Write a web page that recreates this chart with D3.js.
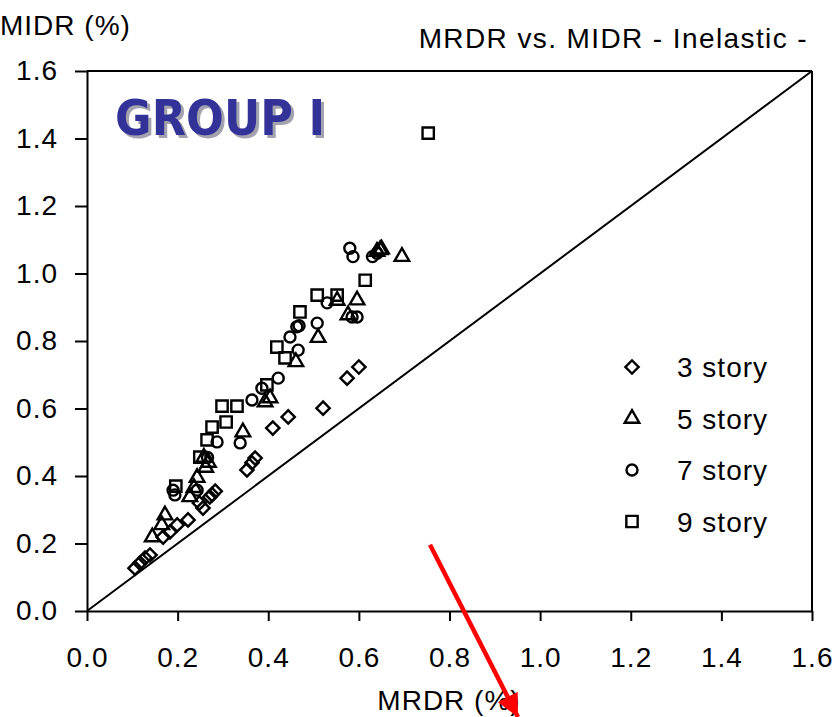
<!DOCTYPE html>
<html>
<head>
<meta charset="utf-8">
<script src="https://cdn.jsdelivr.net/npm/d3@7"></script>
<style>
  body { margin: 0; background: #fff; }
  text { font-family: "Liberation Sans", Arial, sans-serif; }
</style>
</head>
<body>
<svg id="drift" width="834" height="717"></svg>
<script>
// MRDR, MIDR pairs (%)
var story3 = [[0.106,0.127],[0.117,0.142],[0.128,0.157],[0.139,0.166],[0.168,0.219],[0.183,0.234],
  [0.199,0.255],[0.223,0.270],[0.248,0.320],[0.256,0.305],[0.271,0.338],[0.276,0.345],[0.283,0.355],
  [0.353,0.418],[0.364,0.439],[0.371,0.453],[0.410,0.542],[0.444,0.575],[0.521,0.601],[0.574,0.690],[0.600,0.723]];
var story5 = [[0.144,0.219],[0.165,0.255],[0.172,0.284],[0.227,0.338],[0.236,0.365],[0.243,0.395],
  [0.262,0.425],[0.268,0.440],[0.258,0.455],[0.344,0.530],[0.393,0.619],[0.404,0.631],[0.461,0.738],
  [0.510,0.810],[0.552,0.920],[0.576,0.877],[0.596,0.921],[0.640,1.065],[0.647,1.070],[0.650,1.072],[0.695,1.050]];
var story7 = [[0.190,0.358],[0.194,0.344],[0.243,0.358],[0.266,0.455],[0.287,0.501],[0.338,0.498],
  [0.364,0.625],[0.386,0.660],[0.422,0.690],[0.448,0.812],[0.463,0.842],[0.466,0.773],[0.468,0.845],
  [0.508,0.853],[0.530,0.913],[0.585,0.871],[0.596,0.871],[0.580,1.075],[0.587,1.050],[0.630,1.050],[0.640,1.060]];
var story9 = [[0.196,0.370],[0.249,0.456],[0.265,0.507],[0.276,0.545],[0.307,0.560],[0.298,0.607],
  [0.331,0.607],[0.397,0.670],[0.419,0.782],[0.437,0.750],[0.470,0.886],[0.508,0.936],[0.552,0.936],
  [0.614,0.980],[0.753,1.416]];

var seriesNames = ["3 story", "5 story", "7 story", "9 story"];
var ticks = [0, 0.2, 0.4, 0.6, 0.8, 1.0, 1.2, 1.4, 1.6];
var arrowFrom = [0.757, 0.196], arrowTo = [0.951, -0.314];

var svg = d3.select("#drift");

var x = d3.scaleLinear().domain([0, 1.6]).range([87, 812]);
var y = d3.scaleLinear().domain([0, 1.6]).range([611, 71]);

// symbols: diamond is a square turned 45deg
var shapes = [
  { sym: d3.symbolSquare, size: 88, rot: 45 },
  { sym: d3.symbolTriangle, size: 92, rot: 0 },
  { sym: d3.symbolCircle, size: 95, rot: 0 },
  { sym: d3.symbolSquare, size: 128, rot: 0 }
];

// frame
svg.append("line").attr("x1", x(0)).attr("x2", x(1.6)).attr("y1", y(1.6)).attr("y2", y(1.6))
  .attr("stroke", "#000").attr("stroke-width", 2);
svg.append("line").attr("x1", x(1.6)).attr("x2", x(1.6)).attr("y1", y(0)).attr("y2", y(1.6))
  .attr("stroke", "#000").attr("stroke-width", 2);

var yAxis = svg.append("g")
  .attr("transform", "translate(" + x(0) + ",0)")
  .call(d3.axisLeft(y).tickValues(ticks).tickFormat(d3.format(".1f")).tickSize(12).tickSizeOuter(0).tickPadding(17));
var xAxis = svg.append("g")
  .attr("transform", "translate(0," + y(0) + ")")
  .call(d3.axisBottom(x).tickValues(ticks).tickFormat(d3.format(".1f")).tickSize(10).tickSizeOuter(0).tickPadding(26));

[yAxis, xAxis].forEach(function(a) {
  a.selectAll("path, line").attr("stroke", "#000").attr("stroke-width", 2);
  a.selectAll("text").attr("fill", "#000").style("font-size", "28px").style("font-family", "Liberation Sans, Arial, sans-serif")
    .style("letter-spacing", "1px");
});

// 1:1 line
svg.append("line")
  .attr("x1", x(0)).attr("y1", y(0)).attr("x2", x(1.6)).attr("y2", y(1.6))
  .attr("stroke", "#000").attr("stroke-width", 2);

// points
[story3, story5, story7, story9].forEach(function(data, i) {
  var s = shapes[i];
  svg.append("g").selectAll("path")
    .data(data)
    .enter().append("path")
    .attr("d", d3.symbol().type(s.sym).size(s.size))
    .attr("transform", (d) => "translate(" + x(d[0]) + "," + y(d[1]) + ") rotate(" + s.rot + ")")
    .attr("fill", "none")
    .attr("stroke", "#000")
    .attr("stroke-width", 2.4);
});

// legend
var legend = svg.append("g").selectAll("g")
  .data(seriesNames)
  .enter().append("g")
  .attr("transform", (d, i) => "translate(632," + (367 + i * 51.5) + ")");
legend.append("path")
  .attr("d", (d, i) => d3.symbol().type(shapes[i].sym).size(shapes[i].size)())
  .attr("transform", (d, i) => "rotate(" + shapes[i].rot + ")")
  .attr("fill", "none").attr("stroke", "#000").attr("stroke-width", 2.4);
legend.append("text")
  .attr("x", 45).attr("dy", "0.36em")
  .style("font-size", "28px").style("letter-spacing", "1px")
  .text((d) => d);

// titles
svg.append("text").attr("x", 0).attr("y", 35)
  .style("font-size", "28px").style("letter-spacing", "1px").text("MIDR (%)");
svg.append("text").attr("x", 808).attr("y", 48).attr("text-anchor", "end")
  .style("font-size", "28px").style("letter-spacing", "1.4px").text("MRDR vs. MIDR - Inelastic -");
svg.append("text").attr("x", 449).attr("y", 710).attr("text-anchor", "middle")
  .style("font-size", "28px").style("letter-spacing", "1px").text("MRDR (%)");

var defs = svg.append("defs");

// GROUP I label with soft grey shadow
var shadow = defs.append("filter").attr("id", "shadow")
  .attr("x", "-5%").attr("y", "-10%").attr("width", "115%").attr("height", "130%");
shadow.append("feDropShadow")
  .attr("dx", 3).attr("dy", 3).attr("stdDeviation", 0.6)
  .attr("flood-color", "#8c8c9c").attr("flood-opacity", 0.8);
svg.append("text")
  .attr("x", 115).attr("y", 135)
  .attr("textLength", 210).attr("lengthAdjust", "spacingAndGlyphs")
  .attr("filter", "url(#shadow)")
  .style("font-family", "DejaVu Sans, Verdana, sans-serif")
  .style("font-weight", "bold").style("font-size", "50px")
  .attr("fill", "#333399")
  .text("GROUP I");

// red arrow annotation
defs.append("marker")
  .attr("id", "head").attr("viewBox", "0 0 10 10")
  .attr("refX", 10).attr("refY", 5)
  .attr("markerWidth", 5).attr("markerHeight", 5)
  .attr("markerUnits", "strokeWidth")
  .attr("orient", "auto")
  .append("path").attr("d", "M0,0L10,5L0,10z").attr("fill", "#ff0000");
svg.append("line")
  .attr("x1", x(arrowFrom[0])).attr("y1", y(arrowFrom[1]))
  .attr("x2", x(arrowTo[0])).attr("y2", y(arrowTo[1]))
  .attr("stroke", "#ff0000").attr("stroke-width", 4.5)
  .attr("marker-end", "url(#head)");
</script>
</body>
</html>
